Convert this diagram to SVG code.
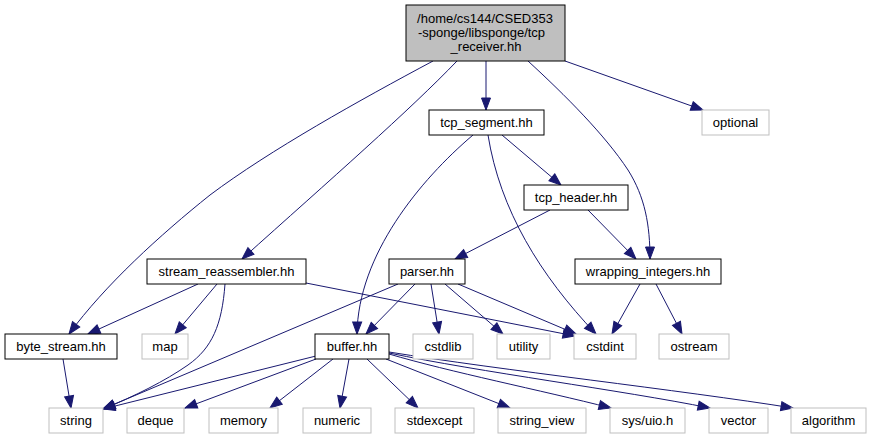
<svg xmlns="http://www.w3.org/2000/svg" width="872" height="440" viewBox="0 0 872 440">
<style>
text{font-family:"Liberation Sans",Arial,sans-serif;font-size:13px;fill:#000;text-anchor:middle}
.n rect{fill:#fff;stroke:#000;stroke-width:1}
.g rect{fill:#fff;stroke:#bfbfbf;stroke-width:1}
#edges path{fill:none;stroke:#191970;stroke-width:1;marker-end:url(#a)}
</style>
<defs>
<marker id="a" markerWidth="12" markerHeight="9" refX="12" refY="4.5" orient="auto" markerUnits="userSpaceOnUse" style="overflow:visible">
<path d="M0,0 L12,4.5 L0,9z" fill="#191970" stroke="#191970" stroke-width="1"/>
</marker>
</defs>
<rect width="872" height="440" fill="#fff"/>
<g id="edges">
<path d="M486,61 L486,110"/>
<path d="M565,61 L703,110"/>
<path d="M528,61 C565,95 605,135 628,170 C645,197 650,225 650,259"/>
<path d="M457,61 C410,110 330,180 242,259"/>
<path d="M433,61 C360,100 270,150 210,195 C160,235 105,285 69,334"/>
<path d="M502,135 L561,185"/>
<path d="M473,135 C420,180 358,255 357,334"/>
<path d="M488,135 C500,210 540,275 596,334"/>
<path d="M550,210 L455,259"/>
<path d="M588,210 L636,259"/>
<path d="M198,284 L88,334"/>
<path d="M217,284 L175,334"/>
<path d="M225,284 C222,325 212,348 188,365 C165,381 135,396 103,409"/>
<path d="M306,283 L575,336"/>
<path d="M415,284 L366,334"/>
<path d="M398,284 L103,409"/>
<path d="M431,284 L439,334"/>
<path d="M445,284 L503,334"/>
<path d="M458,284 L576,334"/>
<path d="M640,284 L612,334"/>
<path d="M656,284 L682,334"/>
<path d="M63,359 L71,408"/>
<path d="M316,356 L103,409"/>
<path d="M316,359 L185,408"/>
<path d="M333,359 L270,408"/>
<path d="M349,359 L340,408"/>
<path d="M367,359 L418,408"/>
<path d="M386,359 L510,408"/>
<path d="M389,354 C450,372 540,390 611,408"/>
<path d="M389,353 C480,372 620,390 710,408"/>
<path d="M389,352 C500,370 680,390 793,408"/>
</g>
<g id="root" class="n"><rect x="406" y="5" width="159" height="56" style="fill:#bfbfbf"/><text x="485" y="23">/home/cs144/CSED353</text><text x="481.5" y="37">-sponge/libsponge/tcp</text><text x="486" y="51">_receiver.hh</text></g>
<g id="tcp_segment" class="n"><rect x="429" y="110" width="115" height="25"/><text x="486.5" y="127">tcp_segment.hh</text></g>
<g id="optional" class="g"><rect x="702" y="110" width="67" height="25"/><text x="735.5" y="127">optional</text></g>
<g id="tcp_header" class="n"><rect x="524" y="185" width="104" height="25"/><text x="576" y="202">tcp_header.hh</text></g>
<g id="stream_reassembler" class="n"><rect x="147" y="259" width="159" height="25"/><text x="226.5" y="276">stream_reassembler.hh</text></g>
<g id="parser" class="n"><rect x="389" y="259" width="76" height="25"/><text x="427" y="276">parser.hh</text></g>
<g id="wrapping_integers" class="n"><rect x="575" y="259" width="146" height="25"/><text x="648" y="276">wrapping_integers.hh</text></g>
<g id="byte_stream" class="n"><rect x="5" y="334" width="112" height="25"/><text x="61" y="351">byte_stream.hh</text></g>
<g id="map" class="g"><rect x="142" y="334" width="46" height="25"/><text x="165" y="351">map</text></g>
<g id="buffer" class="n"><rect x="315" y="334" width="74" height="25"/><text x="352" y="351">buffer.hh</text></g>
<g id="cstdlib" class="g"><rect x="413" y="334" width="60" height="25"/><text x="443" y="351">cstdlib</text></g>
<g id="utility" class="g"><rect x="497" y="334" width="53" height="25"/><text x="523.5" y="351">utility</text></g>
<g id="cstdint" class="g"><rect x="574" y="334" width="62" height="25"/><text x="605" y="351">cstdint</text></g>
<g id="ostream" class="g"><rect x="659" y="334" width="70" height="25"/><text x="694" y="351">ostream</text></g>
<g id="string" class="g"><rect x="49" y="408" width="54" height="25"/><text x="76" y="425">string</text></g>
<g id="deque" class="g"><rect x="127" y="408" width="57" height="25"/><text x="155.5" y="425">deque</text></g>
<g id="memory" class="g"><rect x="209" y="408" width="69" height="25"/><text x="243.5" y="425">memory</text></g>
<g id="numeric" class="g"><rect x="303" y="408" width="68" height="25"/><text x="337" y="425">numeric</text></g>
<g id="stdexcept" class="g"><rect x="395" y="408" width="79" height="25"/><text x="434.5" y="425">stdexcept</text></g>
<g id="string_view" class="g"><rect x="498" y="408" width="88" height="25"/><text x="542" y="425">string_view</text></g>
<g id="sys_uio" class="g"><rect x="610" y="408" width="75" height="25"/><text x="647.5" y="425">sys/uio.h</text></g>
<g id="vector" class="g"><rect x="709" y="408" width="59" height="25"/><text x="738.5" y="425">vector</text></g>
<g id="algorithm" class="g"><rect x="791" y="408" width="75" height="25"/><text x="828.5" y="425">algorithm</text></g>
</svg>
